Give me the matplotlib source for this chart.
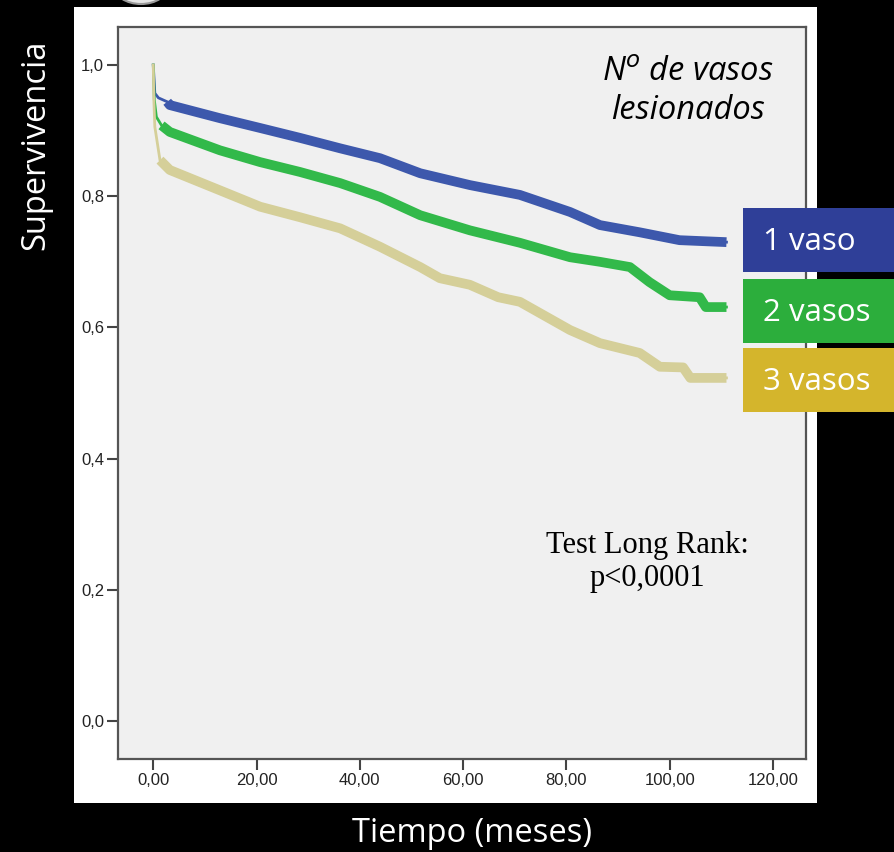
import matplotlib
matplotlib.use("Agg")
import matplotlib.pyplot as plt
from matplotlib.patches import Rectangle, Ellipse

# Kaplan-Meier curves (time in months, survival)
blue_t = [0, 0.3, 1.0, 2.7, 3.2, 12.9, 20.7, 28.4, 36.2, 43.9, 51.7, 61.3,
          71.0, 80.7, 86.5, 94.2, 101.9, 111.0]
blue_s = [1.0, 0.957, 0.950, 0.944, 0.939, 0.919, 0.904, 0.889, 0.873, 0.858,
          0.835, 0.817, 0.802, 0.776, 0.756, 0.745, 0.733, 0.730]

green_t = [0, 0.2, 0.6, 1.6, 3.2, 12.9, 20.7, 28.4, 36.2, 43.9, 51.7, 61.3,
           71.0, 80.7, 86.5, 92.3, 96.1, 100.0, 105.8, 107.0, 111.0]
green_s = [1.0, 0.947, 0.921, 0.908, 0.898, 0.870, 0.852, 0.837, 0.820, 0.799,
           0.771, 0.748, 0.729, 0.707, 0.700, 0.692, 0.669, 0.649, 0.646,
           0.631, 0.631]

tan_t = [0, 0.1, 0.3, 1.3, 3.2, 12.9, 20.7, 28.4, 36.2, 43.9, 51.7, 55.5,
         61.3, 66.8, 71.0, 80.7, 86.5, 94.2, 98.1, 102.6, 104.0, 111.0]
tan_s = [1.0, 0.95, 0.906, 0.855, 0.840, 0.809, 0.784, 0.768, 0.751, 0.723,
         0.692, 0.675, 0.665, 0.646, 0.639, 0.596, 0.576, 0.561, 0.540, 0.539,
         0.523, 0.523]

groups = ["1 vaso", "2 vasos", "3 vasos"]
xticks = [0, 20, 40, 60, 80, 100, 120]
yticks = [0.0, 0.2, 0.4, 0.6, 0.8, 1.0]

line_cols = ["#3D58AC", "#32B94A", "#D5CF99"]
box_cols = ["#2F3F98", "#2CAE3C", "#D4B52C"]

W, H = 895, 852
fig = plt.figure(figsize=(W / 100, H / 100), dpi=100)
fig.patch.set_facecolor("black")

# white panel behind the SPSS chart
fig.patches.append(Rectangle((74 / W, 1 - 803 / H), (817 - 74) / W, (803 - 7) / H,
                             transform=fig.transFigure, facecolor="white",
                             edgecolor="none", zorder=-2))
# bit of a decorative circle peeking in at the top
fig.patches.append(Ellipse((141 / W, 1 - (-14) / H), 54 / W, 36 / H,
                           transform=fig.transFigure, facecolor="#E6E6E6",
                           edgecolor="#9A9A9A", lw=1.5, zorder=-1))

ax = fig.add_axes([118 / W, 1 - 759 / H, (806 - 118) / W, (759 - 27) / H])
ax.set_facecolor("#F0F0F0")
ax.set_xlim(-6.83, 126.4)
ax.set_ylim(-0.058, 1.058)

curves = [(blue_t, blue_s), (green_t, green_s), (tan_t, tan_s)]
for (t, s), c in zip(curves, line_cols):
    ax.plot(t, s, color=c, lw=2.0, solid_joinstyle="miter", zorder=3)
    # censor marks make the curve look like a thick band after the first months
    k = next(i for i, v in enumerate(t) if v >= 1.3)
    ax.plot(t[k:], s[k:], color=c, lw=7.0, solid_capstyle="butt", zorder=3)

ax.set_xticks(xticks)
ax.set_xticklabels([f"{v},00" for v in xticks])
ax.set_yticks(yticks)
ax.set_yticklabels([f"{v:.1f}".replace(".", ",") for v in yticks])
ax.tick_params(length=8, width=1.5, color="#444444", labelsize=12,
               labelcolor="#222222", pad=2)
for lab in ax.get_xticklabels() + ax.get_yticklabels():
    lab.set_family("Liberation Sans")
for sp in ax.spines.values():
    sp.set_color("#555555")
    sp.set_linewidth(1.6)

ax.text(0.828, 0.96, "N$^{o}$ de vasos\nlesionados", transform=ax.transAxes,
        ha="center", va="top", fontsize=23.5, style="italic", family="Open Sans",
        linespacing=1.2, color="black")
ax.text(0.77, 0.269, "Test Long Rank:\np<0,0001", transform=ax.transAxes,
        ha="center", va="center", fontsize=22, family="Liberation Serif",
        linespacing=1.15, color="black")

# coloured group labels sticking out on the right
box_tops = [208, 279, 348]
box_h = [64, 64, 64]
for lab, c, top, hh in zip(groups, box_cols, box_tops, box_h):
    fig.patches.append(Rectangle((743 / W, 1 - (top + hh) / H), (894 - 743) / W, hh / H,
                                 transform=fig.transFigure, facecolor=c,
                                 edgecolor="none", zorder=5))
    fig.text(763 / W, 1 - (top + hh / 2 + 2) / H, lab, ha="left", va="center",
             fontsize=22.5, color="white", family="Open Sans", zorder=6)

fig.text(36 / W, 1 - 145 / H, "Supervivencia", rotation=90, ha="center",
         va="center", fontsize=23.5, color="white", family="Open Sans")
fig.text(472 / W, 1 - 833 / H, "Tiempo (meses)", ha="center", va="center",
         fontsize=23.5, color="white", family="Open Sans")

fig.savefig("out.png", dpi=100, facecolor=fig.get_facecolor())
